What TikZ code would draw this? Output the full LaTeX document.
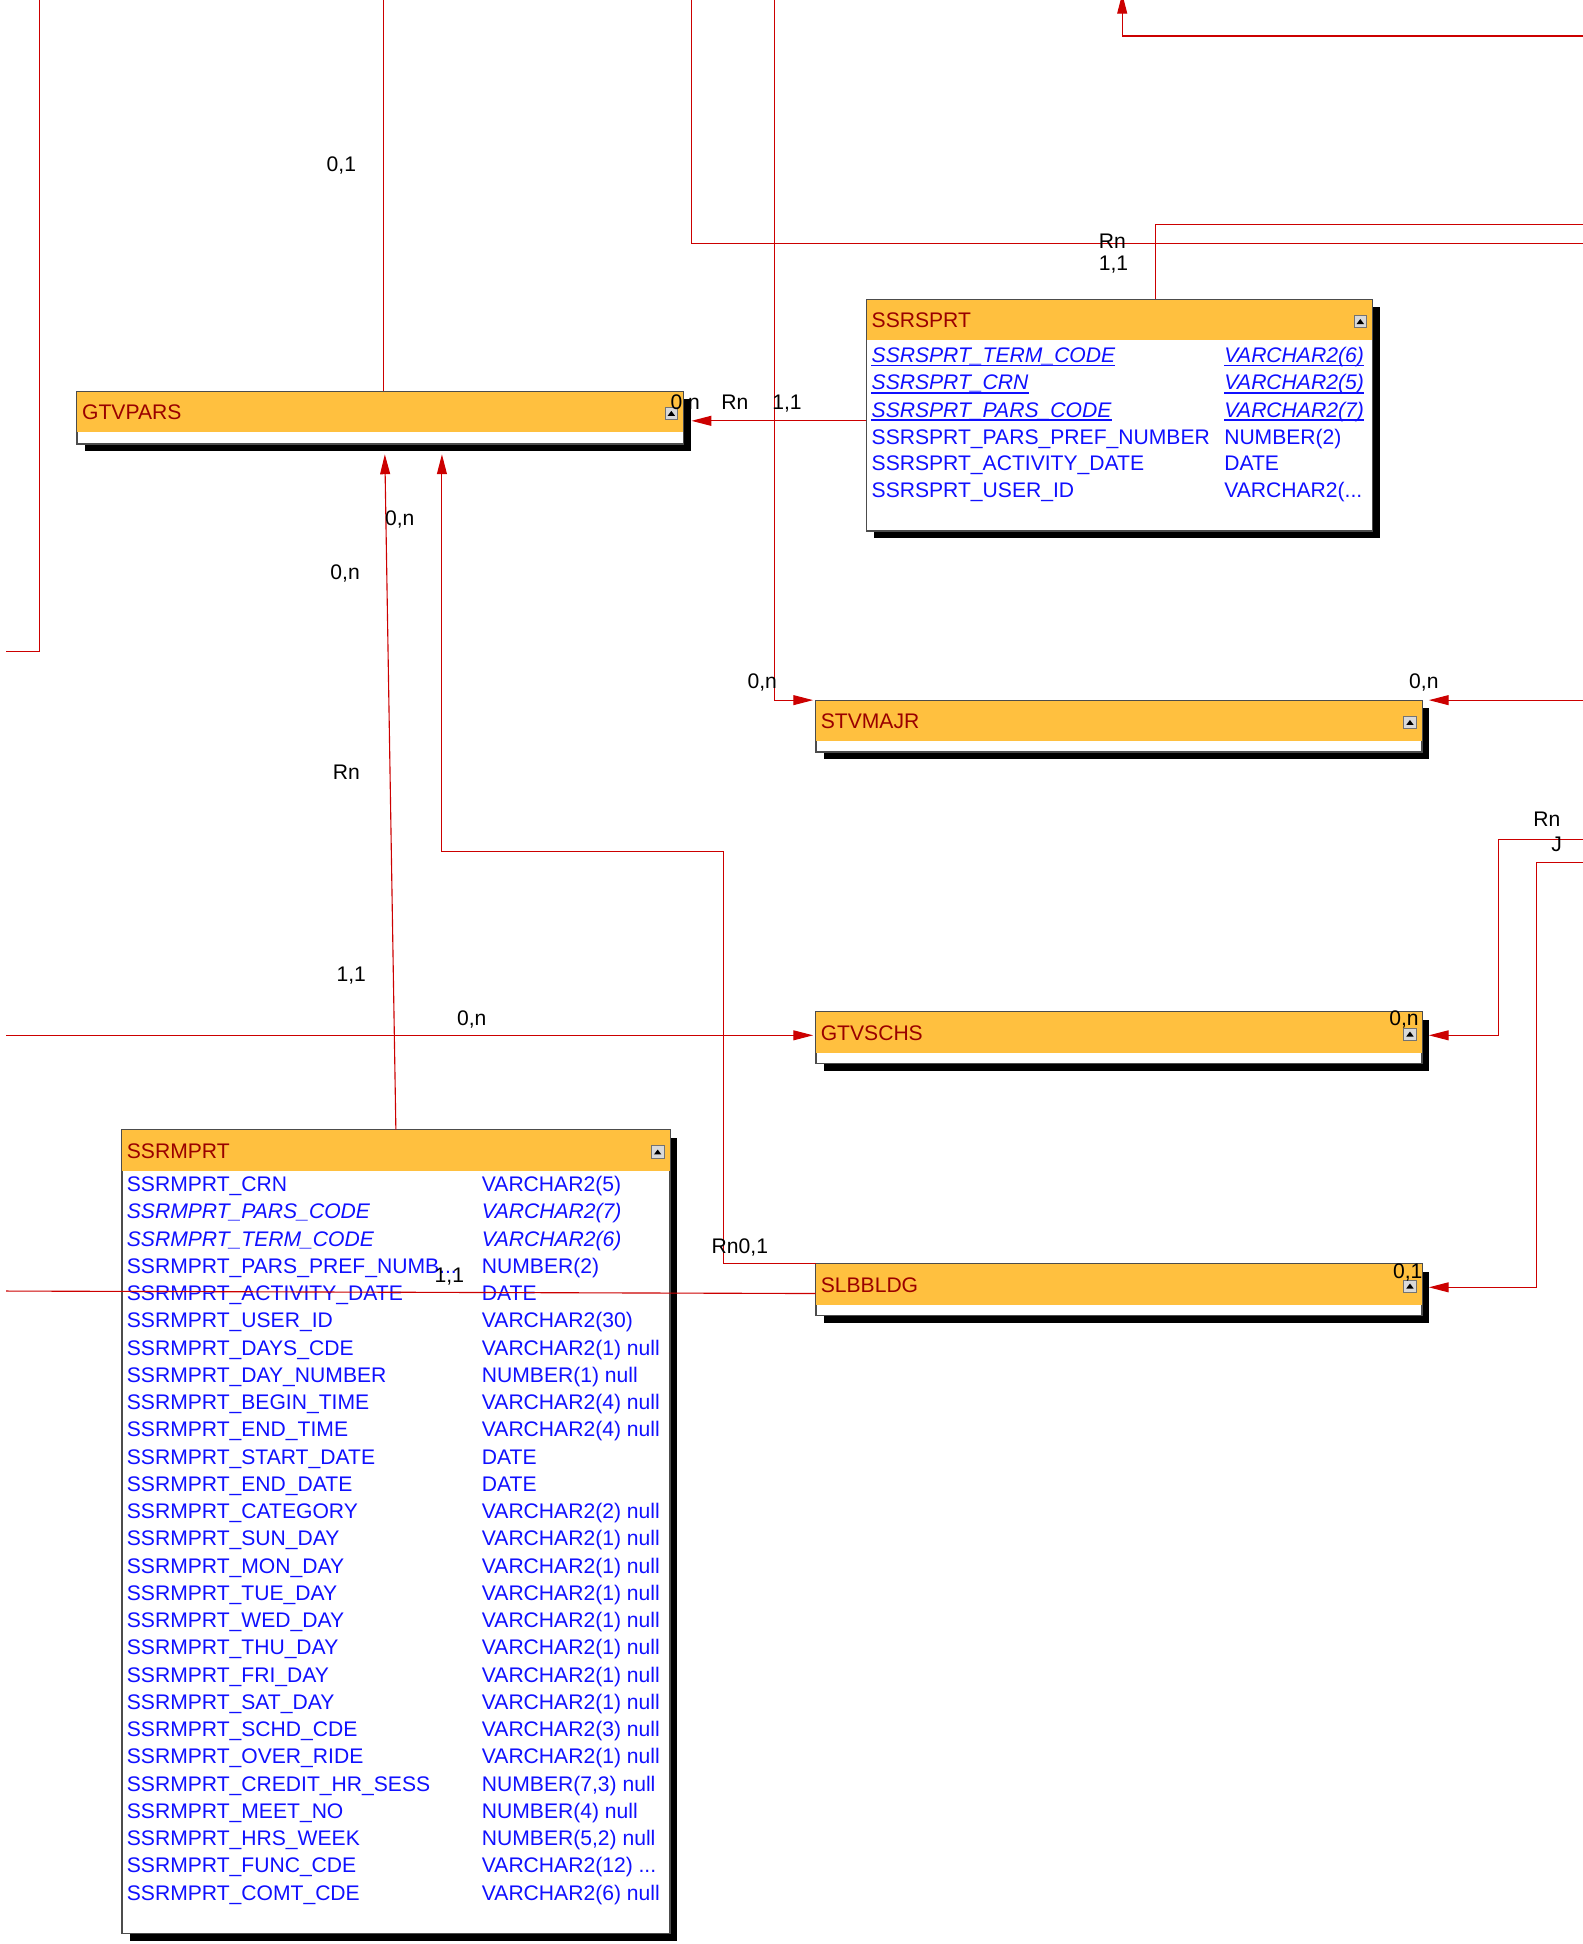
\documentclass[tikz,border=0pt]{standalone}
\usepackage{fontspec}
\setmainfont{Liberation Sans}
\usetikzlibrary{arrows.meta,shadows}
\definecolor{hdr}{HTML}{FFC03F}
\definecolor{rel}{HTML}{CC0000}
\definecolor{tname}{HTML}{990000}
\definecolor{fld}{HTML}{1010FF}
\newcommand\tdots{...}
\newcommand\tblhead[2]{%
  \fill[hdr] ([shift={(0.4pt,-0.4pt)}]#1.north west) rectangle ([shift={(-0.4pt,-33pt)}]#1.north east);
  \draw[draw=black!70,line width=0.8pt] (#1.north west) rectangle (#1.south east);
  \node[ttl] (#1-t) at ([shift={(4pt,-23pt)}]#1.north west) {#2};
  \node[ico] (#1-i) at ([shift={(-10pt,-18pt)}]#1.north east) {};
  \fill (#1-i.center) ++(-3pt,-2pt) -- ++(6pt,0pt) -- ++(-3pt,4pt) -- cycle;
}
\begin{document}
\begin{tikzpicture}[x=1pt,y=-1pt,
  tbl/.style={draw=black!70, line width=0.8pt, fill=white, anchor=north west, inner sep=0pt,
    drop shadow={shadow xshift=6pt, shadow yshift=-6pt, fill=black, opacity=1}},
  ttl/.style={anchor=base west, text=tname, font=\fontsize{17}{20}\selectfont, inner sep=0pt},
  fn/.style={anchor=base west, text=fld, font=\fontsize{17}{20}\selectfont, inner sep=0pt},
  card/.style={anchor=base, text=black, font=\fontsize{17}{20}\selectfont, inner sep=0pt},
  conn/.style={draw=rel, line width=0.9pt},
  arr/.style={conn, -{Triangle[length=16pt,width=8pt]}},
  ico/.style={draw=black!55, fill=black!15, minimum size=10pt, inner sep=0pt, line width=0.5pt},
  ul/.style={draw=fld, line width=1.4pt}
]
\useasboundingbox (0,0) rectangle (1275,1566);
\clip (0,0) rectangle (1275,1566);

% ---------- tables ----------
\node[tbl, minimum width=488pt, minimum height=42pt] (gtvpars) at (62,315) {};
\tblhead{gtvpars}{GTVPARS}
\node[tbl, minimum width=407pt, minimum height=186pt] (ssrsprt) at (698,241) {};
\tblhead{ssrsprt}{SSRSPRT}
\node[tbl, minimum width=488pt, minimum height=41pt] (stvmajr) at (657,564) {};
\tblhead{stvmajr}{STVMAJR}
\node[tbl, minimum width=488pt, minimum height=41pt] (gtvschs) at (657,815) {};
\tblhead{gtvschs}{GTVSCHS}
\node[tbl, minimum width=488pt, minimum height=41pt] (slbbldg) at (657,1018) {};
\tblhead{slbbldg}{SLBBLDG}
\node[tbl, minimum width=441pt, minimum height=647pt] (ssrmprt) at (98,910) {};
\tblhead{ssrmprt}{SSRMPRT}

% SSRSPRT fields
\foreach \n/\t/\y [count=\i] in {TERM\_CODE/VARCHAR2(6)/292, CRN/VARCHAR2(5)/314, PARS\_CODE/VARCHAR2(7)/336}{
  \node[fn, font=\fontsize{17}{20}\selectfont\itshape] (sn\i) at (702,\y) {SSRSPRT\_\n};
  \node[fn, font=\fontsize{17}{20}\selectfont\itshape] (st\i) at (986,\y) {\t};
  \draw[ul] ([yshift=-2.5pt]sn\i.base west) -- ([yshift=-2.5pt]sn\i.base east);
  \draw[ul] ([yshift=-2.5pt]st\i.base west) -- ([yshift=-2.5pt]st\i.base east);
}
\foreach \n/\t/\y [count=\i from 4] in {PARS\_PREF\_NUMBER/NUMBER(2)/358, ACTIVITY\_DATE/DATE/379, USER\_ID/VARCHAR2(\tdots/401}{
  \node[fn] (sn\i) at (702,\y) {SSRSPRT\_\n};
  \node[fn] (st\i) at (986,\y) {\t};
}

% SSRMPRT fields
\foreach \n/\t/\f [count=\i from 0] in {
  CRN/VARCHAR2(5)/{},
  PARS\_CODE/VARCHAR2(7)/\itshape,
  TERM\_CODE/VARCHAR2(6)/\itshape,
  PARS\_PREF\_NUMB\tdots/NUMBER(2)/{},
  ACTIVITY\_DATE/DATE/{},
  USER\_ID/VARCHAR2(30)/{},
  DAYS\_CDE/VARCHAR2(1) null/{},
  DAY\_NUMBER/NUMBER(1) null/{},
  BEGIN\_TIME/VARCHAR2(4) null/{},
  END\_TIME/VARCHAR2(4) null/{},
  START\_DATE/DATE/{},
  END\_DATE/DATE/{},
  CATEGORY/VARCHAR2(2) null/{},
  SUN\_DAY/VARCHAR2(1) null/{},
  MON\_DAY/VARCHAR2(1) null/{},
  TUE\_DAY/VARCHAR2(1) null/{},
  WED\_DAY/VARCHAR2(1) null/{},
  THU\_DAY/VARCHAR2(1) null/{},
  FRI\_DAY/VARCHAR2(1) null/{},
  SAT\_DAY/VARCHAR2(1) null/{},
  SCHD\_CDE/VARCHAR2(3) null/{},
  OVER\_RIDE/VARCHAR2(1) null/{},
  CREDIT\_HR\_SESS/{NUMBER(7,3) null}/{},
  MEET\_NO/NUMBER(4) null/{},
  HRS\_WEEK/{NUMBER(5,2) null}/{},
  FUNC\_CDE/VARCHAR2(12) \tdots/{},
  COMT\_CDE/VARCHAR2(6) null/{}}{
  \node[fn] (mn\i) at (102,960+21.95*\i) {\f SSRMPRT\_\n};
  \node[fn] (mt\i) at (388,960+21.95*\i) {\f \t};
}

% ---------- connectors ----------
\coordinate (a0) at (32,0);   \coordinate (a1) at (5,525);
\draw[conn] (a0) |- (a1);
\coordinate (b0) at (309,0);
\draw[conn] (b0) -- (b0 |- gtvpars.north);
\coordinate (c0) at (557,0);  \coordinate (c1) at (1275,196);
\draw[conn] (c0) |- (c1);
\coordinate (c2) at (624,0);  \coordinate (c3) at (655,564);
\draw[arr] (c2) |- (c3);
\coordinate (d0) at (1275,29); \coordinate (d1) at (904,-5);
\draw[arr] (d0) -| (d1);
\coordinate (e0) at (931,0); \coordinate (e1) at (1275,181);
\draw[conn] (e0 |- ssrsprt.north) |- (e1);
\coordinate (f1) at (557,339);
\draw[arr] (ssrsprt.west |- f1) -- (f1);
\coordinate (g0) at (1275,564); \coordinate (g1) at (1151,564);
\draw[arr] (g0) -- (g1);
\coordinate (h0) at (1275,676); \coordinate (h1) at (1207,676); \coordinate (h2) at (1151,834);
\draw[arr] (h0) -- (h1) |- (h2);
\coordinate (i0) at (1275,695); \coordinate (i1) at (1238,695); \coordinate (i2) at (1151,1037);
\draw[arr] (i0) -- (i1) |- (i2);
\coordinate (j0) at (5,834); \coordinate (j1) at (655,834);
\draw[arr] (j0) -- (j1);
\coordinate (k1) at (310,366);
\draw[arr] (ssrmprt.north) -- (k1);
\coordinate (l1) at (583,686); \coordinate (l2) at (356,366);
\draw[arr] (slbbldg.north west) -- (l1 |- slbbldg.north) -- (l1) -| (l2);
\coordinate (m0) at (5,1040);
\draw[conn] (m0) -- ([yshift=-24pt]slbbldg.north west);

% ---------- cardinality labels ----------
\node[card] (lb1) at (275,138) {0,1};
\node[card] (lb2) at (896,200) {Rn};
\node[card] (lb3) at (897,218) {1,1};
\node[card] (lb4) at (552,330) {0,n};
\node[card] (lb5) at (592,330) {Rn};
\node[card] (lb6) at (634,330) {1,1};
\node[card] (lb7) at (322,423) {0,n};
\node[card] (lb8) at (278,467) {0,n};
\node[card] (lb9) at (614,555) {0,n};
\node[card] (lb10) at (1147,555) {0,n};
\node[card] (lb11) at (279,628) {Rn};
\node[card] (lb12) at (1246,666) {Rn};
\node[card] (lb13) at (1254,686) {J};
\node[card] (lb14) at (283,791) {1,1};
\node[card] (lb15) at (380,826) {0,n};
\node[card] (lb16) at (1131,826) {0,n};
\node[card] (lb17) at (596,1010) {Rn0,1};
\node[card] (lb18) at (362,1033) {1,1};
\node[card] (lb19) at (1134,1030) {0,1};
\end{tikzpicture}
\end{document}
